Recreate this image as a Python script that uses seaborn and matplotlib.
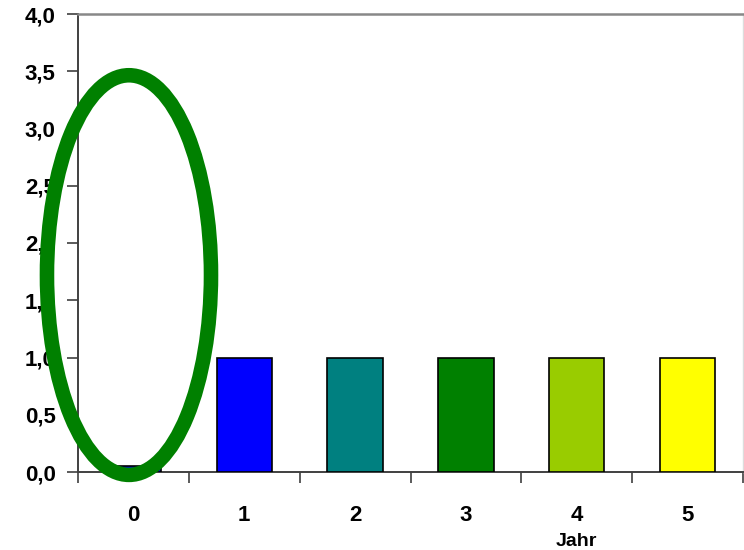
import matplotlib
matplotlib.use("Agg")
import matplotlib.pyplot as plt
import seaborn as sns
import pandas as pd
from matplotlib.patches import Ellipse

# Data
years = ["0", "1", "2", "3", "4", "5"]
values = [0.05, 1.0, 1.0, 1.0, 1.0, 1.0]
bar_colors = ["#0000FF", "#0000FF", "#008080", "#008000", "#99CC00", "#FFFF00"]
y_ticks = [0.0, 0.5, 1.0, 1.5, 2.0, 2.5, 3.0, 3.5, 4.0]
y_tick_labels = ["0,0", "0,5", "1,0", "1,5", "2,0", "2,5", "3,0", "3,5", "4,0"]
x_label = "Jahr"

sns.set_theme(style="white")
plt.rcParams["font.family"] = ["Liberation Sans", "DejaVu Sans"]
plt.rcParams["text.color"] = "black"
plt.rcParams["axes.labelcolor"] = "black"
plt.rcParams["xtick.color"] = "black"
plt.rcParams["ytick.color"] = "black"

df = pd.DataFrame({"Jahr": years, "Wert": values})

fig = plt.figure(figsize=(7.44, 5.5), dpi=100)
ax = fig.add_axes([78 / 744, 1 - 472 / 550, (743 - 78) / 744, (472 - 14) / 550])

sns.barplot(data=df, x="Jahr", y="Wert", hue="Jahr", palette=bar_colors,
            legend=False, width=0.5, edgecolor="black", linewidth=1.2,
            saturation=1, ax=ax, zorder=3)

ax.set_xlim(-0.5, 5.5)
ax.set_ylim(0, 4.0)

ax.set_yticks(y_ticks)
ax.set_yticklabels(y_tick_labels, fontsize=16, fontweight="bold")
ax.tick_params(axis="y", direction="out", length=8, width=1.2, color="#404040",
               labelcolor="black", pad=8, left=True)

ax.set_xticks([i - 0.5 for i in range(len(years) + 1)])
ax.set_xticklabels([""] * (len(years) + 1))
ax.set_xticks(range(len(years)), minor=True)
ax.set_xticklabels(years, minor=True, fontsize=16, fontweight="bold")
ax.tick_params(axis="x", which="major", direction="out", length=8, width=1.2,
               color="#404040", bottom=True)
ax.tick_params(axis="x", which="minor", length=0, pad=24, labelcolor="black")

ax.set_xlabel(x_label, fontsize=14, fontweight="bold", color="black")
ax.set_ylabel("")
ax.xaxis.set_label_coords((4.0 + 0.5) / 6.0, -0.134)

for side in ["left", "bottom"]:
    ax.spines[side].set_color("#404040")
    ax.spines[side].set_linewidth(1.4)
ax.spines["top"].set_color("#888888")
ax.spines["top"].set_linewidth(1.8)
ax.spines["right"].set_color("#dddddd")
ax.spines["right"].set_linewidth(1.0)

ell = Ellipse((-0.04, 1.72), width=1.48, height=3.49, fill=False,
              edgecolor="#008000", linewidth=10.5, transform=ax.transData,
              clip_on=False, zorder=10)
ax.add_patch(ell)

fig.savefig("out.png", dpi=100)
